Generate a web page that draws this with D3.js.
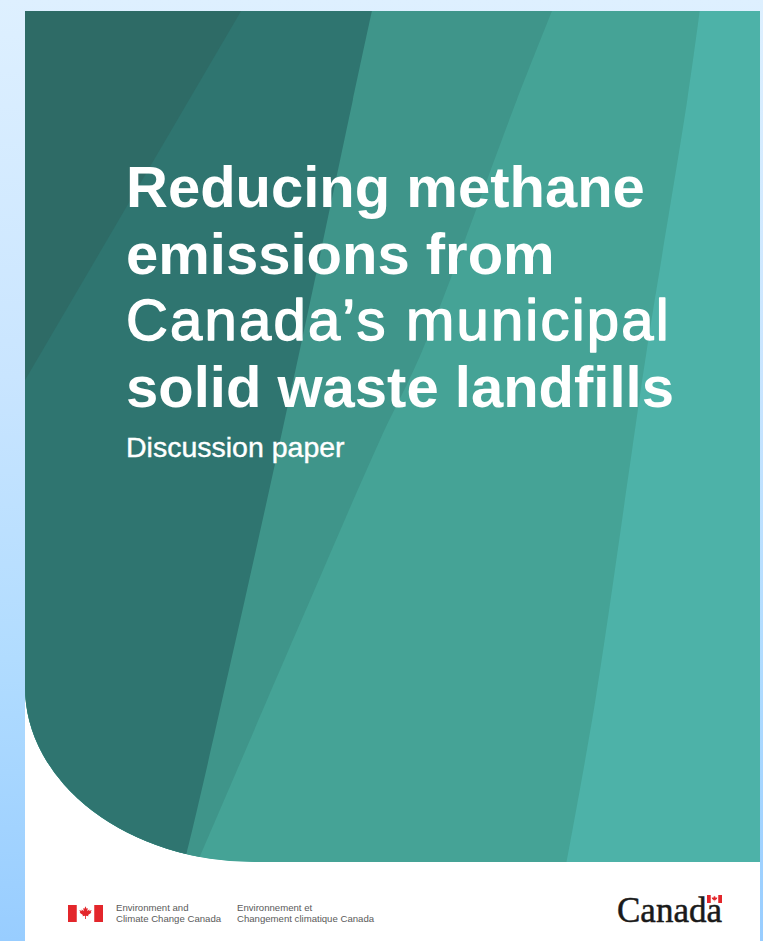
<!DOCTYPE html>
<html>
<head>
<meta charset="utf-8">
<script src="https://cdn.jsdelivr.net/npm/d3@7"></script>
<style>
  html, body { margin: 0; padding: 0; background: #cfe7ff; }
  svg { display: block; }
</style>
</head>
<body>
<div id="chart"></div>
<script>
// ---------- content ----------
const titleLines = ["Reducing methane", "emissions from", "Canada’s municipal", "solid waste landfills"];
const titleWeights = ["bold", "bold", "medium", "bold"];
const subtitle = "Discussion paper";
const departmentEn = ["Environment and", "Climate Change Canada"];
const departmentFr = ["Environnement et", "Changement climatique Canada"];
const wordmark = "Canada";

// ---------- cover bands (fractions of the green panel: [across, down]) ----------
const bandColors = ["#2e6b66", "#2f7570", "#3f958a", "#45a396", "#4db2a8"];
const edge12 = [[0.294, 0], [0.0, 0.434]];
const edge23 = [[0.472, 0], [0.446, 0.105], [0.374, 0.398], [0.299, 0.692], [0.220, 0.989], [0.216, 1]];
const edge34 = [[0.717, 0], [0.669, 0.105], [0.541, 0.398], [0.483, 0.504], [0.388, 0.692], [0.235, 1]];
const edge45 = [[0.918, 0], [0.901, 0.105], [0.846, 0.398], [0.826, 0.516], [0.776, 0.810], [0.737, 1]];
const edges = [edge12, edge23, edge34, edge45];

// ---------- layout ----------
const W = 763, H = 941;
const page = { x0: 25, x1: 760, y0: 11 };
const panelBottom = 862;
const corner = { rx: 230, ry: 175 };

const svg = d3.select("#chart").append("svg")
  .attr("width", W).attr("height", H)
  .attr("viewBox", `0 0 ${W} ${H}`);

const defs = svg.append("defs");
const bg = defs.append("linearGradient").attr("id", "bgGrad")
  .attr("x1", 0).attr("y1", 0).attr("x2", 0).attr("y2", 1);
[[0, "#def0ff"], [0.4, "#c9e5ff"], [0.7, "#b1dcff"], [1, "#98cdff"]].forEach(([o, c]) =>
  bg.append("stop").attr("offset", o).attr("stop-color", c));

svg.append("rect").attr("width", W).attr("height", H).attr("fill", "url(#bgGrad)");

// white page
svg.append("rect")
  .attr("x", page.x0).attr("y", page.y0)
  .attr("width", page.x1 - page.x0).attr("height", H - page.y0)
  .attr("fill", "#ffffff");

// scales mapping panel fractions to pixels
const x = d3.scaleLinear().domain([0, 1]).range([page.x0, page.x1]);
const y = d3.scaleLinear().domain([0, 1]).range([page.y0, panelBottom]);

// panel shape with rounded lower-left corner
const panelPath = d3.path();
panelPath.moveTo(x(0), y(0));
panelPath.lineTo(x(1), y(0));
panelPath.lineTo(x(1), y(1));
panelPath.lineTo(x(0) + corner.rx, y(1));
const panelD = panelPath.toString() +
  ` A${corner.rx},${corner.ry} 0 0 1 ${x(0)},${y(1) - corner.ry} Z`;

defs.append("clipPath").attr("id", "panelClip")
  .append("path").attr("d", panelD);

const gBands = svg.append("g").attr("clip-path", "url(#panelClip)");

// base fill = lightest band
gBands.append("path").attr("d", panelD).attr("fill", bandColors[4]);

const edgeLine = d3.line()
  .x(d => x(d[0])).y(d => y(d[1]))
  .curve(d3.curveCatmullRom.alpha(0.5));

// draw from right to left so each darker band covers area to the left of its edge
for (let i = edges.length - 1; i >= 0; i--) {
  const e = edges[i];
  const last = e[e.length - 1];
  const d = edgeLine(e) +
    `L${x(-0.1)},${y(last[1])}L${x(-0.1)},${y(0)}Z`;
  gBands.append("path").attr("d", d).attr("fill", bandColors[i]);
}

// ---------- title ----------
const titleX = 126;
const titleBase = 207;
const titleStep = 66.7;
svg.append("g").selectAll("text")
  .data(titleLines)
  .join("text")
  .attr("x", titleX)
  .attr("y", (d, i) => titleBase + i * titleStep)
  .attr("font-family", "'Liberation Sans', Arial, sans-serif")
  .attr("font-size", 58)
  .attr("font-weight", (d, i) => titleWeights[i] === "bold" ? "bold" : "normal")
  .attr("letter-spacing", (d, i) => titleWeights[i] === "bold" ? 0 : 2.2)
  .attr("stroke", (d, i) => titleWeights[i] === "bold" ? "none" : "#ffffff")
  .attr("stroke-width", (d, i) => titleWeights[i] === "bold" ? 0 : 1.4)
  .attr("stroke-linejoin", "round")
  .attr("fill", "#ffffff")
  .text(d => d);

svg.append("text")
  .attr("x", titleX).attr("y", 457)
  .attr("font-family", "'Liberation Sans', Arial, sans-serif")
  .attr("font-size", 28.5)
  .attr("fill", "#ffffff")
  .attr("stroke", "#ffffff")
  .attr("stroke-width", 0.4)
  .text(subtitle);

// ---------- footer: FIP symbol ----------
const leafPts = [[0,-1],[0.15,-0.68],[0.32,-0.78],[0.25,-0.32],[0.55,-0.58],[0.5,-0.4],[0.88,-0.46],[0.72,-0.2],[0.82,-0.1],[0.36,0.22],[0.42,0.38],[0.06,0.32],[0.06,0.78],[-0.06,0.78],[-0.06,0.32],[-0.42,0.38],[-0.36,0.22],[-0.82,-0.1],[-0.72,-0.2],[-0.88,-0.46],[-0.5,-0.4],[-0.55,-0.58],[-0.25,-0.32],[-0.32,-0.78],[-0.15,-0.68]];
const leafLine = d3.line().curve(d3.curveLinearClosed);

function flag(g, fx, fy, w, h) {
  const bar = w / 4;
  g.append("rect").attr("x", fx).attr("y", fy).attr("width", bar).attr("height", h).attr("fill", "#e3262b");
  g.append("rect").attr("x", fx + w - bar).attr("y", fy).attr("width", bar).attr("height", h).attr("fill", "#e3262b");
  const s = h * 0.42;
  g.append("path")
    .attr("d", leafLine(leafPts.map(p => [p[0] * s, p[1] * s])))
    .attr("transform", `translate(${fx + w / 2},${fy + h / 2})`)
    .attr("fill", "#e3262b");
}

const gFoot = svg.append("g");
flag(gFoot, 68, 905, 35, 17);

const deptFont = { family: "'Liberation Sans', Arial, sans-serif", size: 9.6, fill: "#5a5a5a" };
[[116, departmentEn], [237, departmentFr]].forEach(([tx, lines]) => {
  gFoot.append("g").selectAll("text")
    .data(lines).join("text")
    .attr("x", tx)
    .attr("y", (d, i) => 910.5 + i * 11.5)
    .attr("font-family", deptFont.family)
    .attr("font-size", deptFont.size)
    .attr("fill", deptFont.fill)
    .text(d => d);
});

// ---------- Canada wordmark ----------
gFoot.append("text")
  .attr("x", 617).attr("y", 922)
  .attr("font-family", "'Liberation Serif', 'Times New Roman', serif")
  .attr("font-size", 35)
  .attr("fill", "#1a1a1a")
  .attr("stroke", "#1a1a1a")
  .attr("stroke-width", 0.5)
  .text(wordmark);
flag(gFoot, 707, 895, 15, 8);
</script>
</body>
</html>
